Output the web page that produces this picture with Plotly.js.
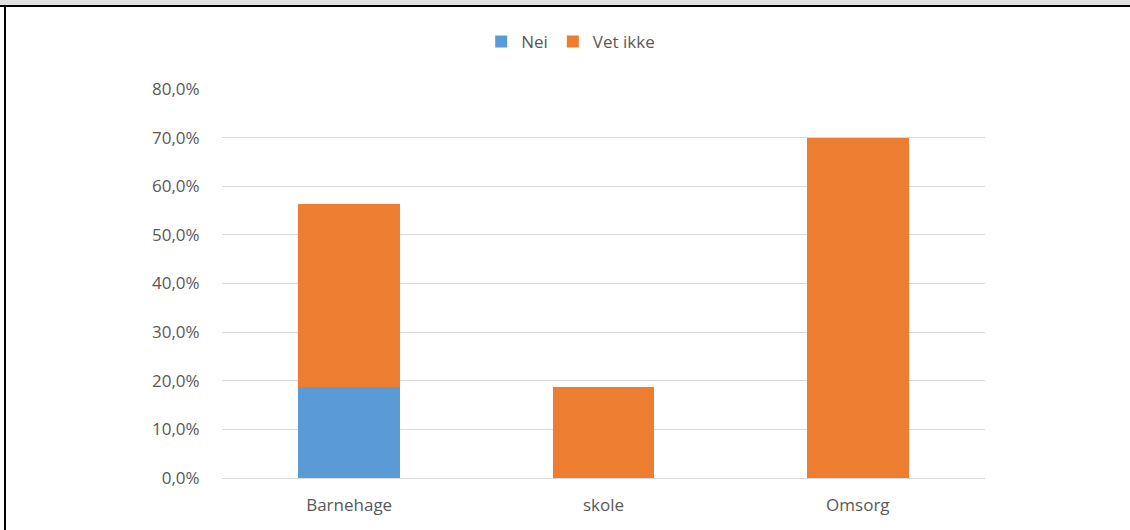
<!DOCTYPE html>
<html>
<head>
<meta charset="utf-8">
<script src="https://cdn.plot.ly/plotly-3.0.1.min.js"></script>
<style>
html,body{margin:0;padding:0;background:#fff;}
#wrap{position:relative;width:1130px;height:530px;overflow:hidden;}
#topstrip{position:absolute;left:0;top:0;width:1130px;height:5px;background:#e1e1e1;}
#topline{position:absolute;left:0;top:5px;width:1130px;height:2px;background:#000;}
#leftline{position:absolute;left:4px;top:5px;width:2px;height:525px;background:#000;}
#chart{position:absolute;left:0;top:0;width:1130px;height:530px;}
</style>
</head>
<body>
<div id="wrap">
<div id="chart"></div>
<div id="topstrip"></div>
<div id="topline"></div>
<div id="leftline"></div>
</div>
<script>
const categories = ["Barnehage", "skole", "Omsorg"];
const nei = [0.1875, 0, 0];
const vetIkke = [0.375, 0.1875, 0.70];
const seriesNames = ["Nei", "Vet ikke"];
const yTicks = [0, 0.1, 0.2, 0.3, 0.4, 0.5, 0.6, 0.7, 0.8];

const font = {family: "Open Sans, sans-serif", size: 17, color: "#595959"};

const data = [
  {type: "bar", name: seriesNames[0], x: categories, y: nei, marker: {color: "#5b9bd5"}, hoverinfo: "none"},
  {type: "bar", name: seriesNames[1], x: categories, y: vetIkke, marker: {color: "#ed7d31"}, hoverinfo: "none"}
];

const layout = {
  width: 1130, height: 530,
  margin: {l: 222, r: 145, t: 89, b: 52, pad: 0},
  paper_bgcolor: "#fff", plot_bgcolor: "#fff",
  barmode: "stack", bargap: 0.6,
  separators: ", ",
  font: font,
  showlegend: true,
  legend: {orientation: "h", x: 0.457, xanchor: "center", y: 1.121, yanchor: "middle",
           font: font, itemwidth: 30, tracegroupgap: 0, traceorder: "normal"},
  xaxis: {type: "category", showgrid: false, zeroline: false, showline: false,
          ticks: "outside", ticklen: 12, tickcolor: "rgba(0,0,0,0)", tickfont: font},
  yaxis: {range: [0, 0.8], tickvals: yTicks, tickformat: ".1%", showgrid: true,
          gridcolor: "#d9d9d9", gridwidth: 1, zeroline: true, zerolinecolor: "#d9d9d9", zerolinewidth: 1,
          showline: false, ticks: "outside", ticklen: 18, tickcolor: "rgba(0,0,0,0)", tickfont: font}
};

Plotly.newPlot("chart", data, layout, {staticPlot: true, displayModeBar: false});
</script>
</body>
</html>
